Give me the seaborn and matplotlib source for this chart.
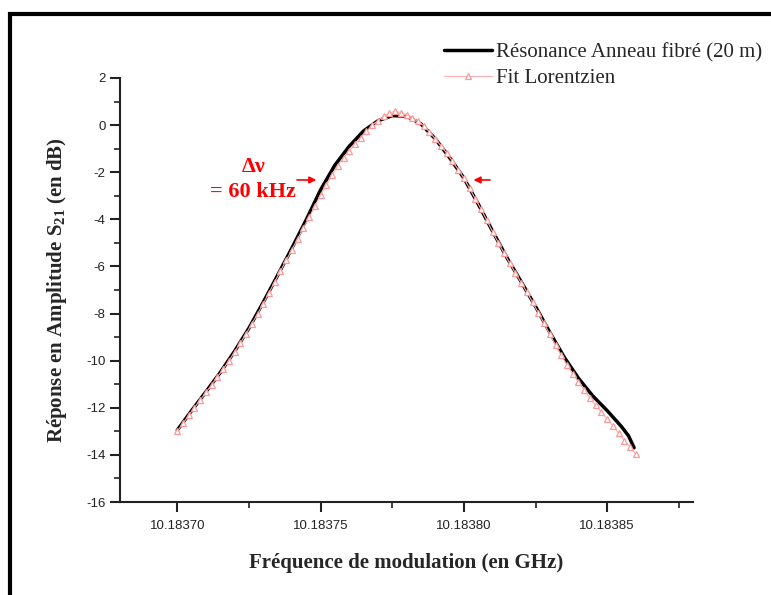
import numpy as np
import pandas as pd
import matplotlib.pyplot as plt
import seaborn as sns
from matplotlib.ticker import MultipleLocator, FormatStrFormatter
from matplotlib.patches import Rectangle

# frequency offsets (kHz) from 10.18370 GHz
base_ghz = 10.18370
fit_offset_khz = [0, 2, 4, 6, 8, 10, 12, 14, 16, 18,
                  20, 22, 24, 26, 28, 30, 32, 34, 36, 38,
                  40, 42, 44, 46, 48, 50, 52, 54, 56, 58,
                  60, 62, 64, 66, 68, 70, 72, 74, 76, 78,
                  80, 82, 84, 86, 88, 90, 92, 94, 96, 98,
                  100, 102, 104, 106, 108, 110, 112, 114, 116, 118,
                  120, 122, 124, 126, 128, 130, 132, 134, 136, 138,
                  140, 142, 144, 146, 148, 150, 152, 154, 156, 158,
                  160]
fit_db = [-13.00, -12.66, -12.32, -11.99, -11.67, -11.35, -11.02, -10.69, -10.35, -10.01,
          -9.63, -9.25, -8.86, -8.44, -8.02, -7.58, -7.12, -6.65, -6.20, -5.74,
          -5.29, -4.83, -4.37, -3.92, -3.45, -2.98, -2.54, -2.14, -1.73, -1.38,
          -1.09, -0.81, -0.54, -0.27, -0.01, 0.19, 0.37, 0.51, 0.59, 0.52,
          0.42, 0.32, 0.17, -0.03, -0.29, -0.58, -0.88, -1.19, -1.53, -1.89,
          -2.25, -2.69, -3.13, -3.57, -4.04, -4.52, -4.99, -5.43, -5.86, -6.28,
          -6.69, -7.09, -7.53, -7.97, -8.42, -8.89, -9.34, -9.77, -10.20, -10.56,
          -10.91, -11.25, -11.59, -11.90, -12.19, -12.48, -12.77, -13.08, -13.39, -13.67,
          -13.96]

meas_offset_khz = [0, 5, 10, 15, 20, 25, 30, 35, 40, 45,
                   50, 55, 60, 65, 70, 75, 80, 85, 90, 95,
                   100, 105, 110, 115, 120, 125, 130, 135, 140, 145,
                   150, 155, 157.5, 159.4]
meas_db = [-12.95, -12.12, -11.32, -10.50, -9.60, -8.62, -7.52, -6.38, -5.22, -4.02,
           -2.75, -1.70, -0.90, -0.25, 0.18, 0.40, 0.38, 0.05, -0.58, -1.38,
           -2.25, -3.35, -4.50, -5.62, -6.65, -7.70, -8.80, -9.85, -10.75, -11.50,
           -12.12, -12.80, -13.20, -13.70]

fit = pd.DataFrame({'f': [base_ghz + k * 1e-6 for k in fit_offset_khz], 'db': fit_db})
meas = pd.DataFrame({'f': [base_ghz + k * 1e-6 for k in meas_offset_khz], 'db': meas_db})

sns.set_style('ticks')
plt.rcParams['font.family'] = ['Liberation Sans', 'DejaVu Sans']
plt.rcParams['axes.unicode_minus'] = False
plt.rcParams['mathtext.fontset'] = 'custom'
plt.rcParams['mathtext.rm'] = 'Liberation Serif:bold'
plt.rcParams['mathtext.it'] = 'Liberation Serif:bold'

fig = plt.figure(figsize=(7.71, 5.95), dpi=100)
ax = fig.add_axes([0.1556, 0.1563, 0.7434, 0.7127])

sns.lineplot(data=meas, x='f', y='db', color='black', linewidth=2,
             label='Résonance Anneau fibré (20 m)', ax=ax, zorder=2)
sns.lineplot(data=fit, x='f', y='db', color='#ffb0b0', linewidth=0.8,
             marker='^', markersize=5, markerfacecolor='white',
             markeredgecolor='#ff9898', markeredgewidth=0.9,
             label='Fit Lorentzien', ax=ax, zorder=3)

ax.set_xlim(10.183680, 10.183880)
ax.set_ylim(-16, 2)
ax.xaxis.set_major_locator(MultipleLocator(5e-5))
ax.xaxis.set_minor_locator(MultipleLocator(2.5e-5))
ax.xaxis.set_major_formatter(FormatStrFormatter('%.5f'))
ax.yaxis.set_major_locator(MultipleLocator(2))
ax.yaxis.set_minor_locator(MultipleLocator(1))
ax.set_xticks([10.18370, 10.18375, 10.18380, 10.18385])

for s in ['top', 'right']:
    ax.spines[s].set_visible(False)
for s in ['left', 'bottom']:
    ax.spines[s].set_linewidth(1.5)
    ax.spines[s].set_color('#222222')
ax.tick_params(which='major', length=7, width=1.5, labelsize=9.5, colors='#222222', direction='out')
ax.tick_params(which='minor', length=4, width=1.2, colors='#222222', direction='out')
ax.tick_params(axis='x', pad=6)

ax.set_xlabel('Fréquence de modulation (en GHz)', family='Liberation Serif',
              fontweight='bold', fontsize=15, labelpad=15)
ax.set_ylabel('Réponse en Amplitude S$_{21}$ (en dB)', family='Liberation Serif',
              fontweight='bold', fontsize=15, labelpad=12)

ax.legend_.remove()
h, l = ax.get_legend_handles_labels()
h[0].set_linewidth(2.5)
fig.legend(h, l, loc='upper right', bbox_to_anchor=(0.994, 0.935), frameon=False,
           prop={'family': 'Liberation Serif', 'size': 15}, handlelength=2.3,
           handletextpad=0.2, labelspacing=0.3, borderaxespad=0, borderpad=0.2)

# delta-nu annotation
ax.text(10.1837265, -1.78, 'Δν', color='red', fontsize=16, fontweight='bold',
        family='Liberation Serif', ha='center', va='center')
ax.text(10.1837265, -2.84, '= 60 kHz', color='red', fontsize=16, fontweight='bold',
        family='Liberation Serif', ha='center', va='center')
ax.annotate('', xy=(10.1837495, -2.33), xytext=(10.1837408, -2.33),
            arrowprops=dict(arrowstyle='-|>', color='red', lw=1.2, mutation_scale=10))
ax.annotate('', xy=(10.1838024, -2.33), xytext=(10.1838101, -2.33),
            arrowprops=dict(arrowstyle='-|>', color='red', lw=1.2, mutation_scale=10))

# outer frame (only top and left edges visible)
fig.patches.append(Rectangle((10 / 771, -0.2), 1.2, 1.2 - 14 / 595, transform=fig.transFigure,
                             fill=False, edgecolor='black', linewidth=3))

fig.savefig('out.png', dpi=100)
